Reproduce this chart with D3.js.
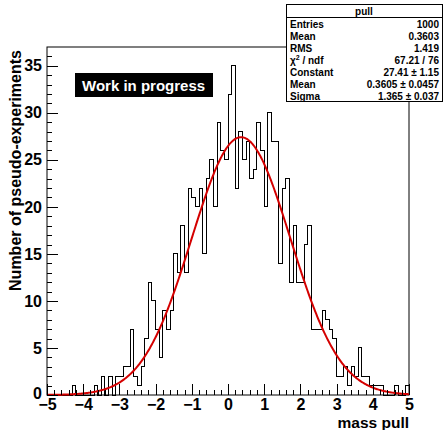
<!DOCTYPE html>
<html>
<head>
<meta charset="utf-8">
<script src="https://cdn.jsdelivr.net/npm/d3@7"></script>
<style>
  html, body { margin: 0; padding: 0; background: #fff; }
  svg { display: block; }
  text { font-family: "Liberation Sans", Arial, Helvetica, sans-serif; font-weight: bold; }
</style>
</head>
<body>
<svg id="chart" width="445" height="430"></svg>
<script>
// Histogram binning: 100 bins of width 0.1 from -5 to 5
const binLow = -5;
const binWidth = 0.1;
// Entries per bin, from the first bin [-5,-4.9) to the last [4.9,5)
const binCounts = [
  0, 0, 0, 0, 0, 0, 0, 1, 0, 0,
  0, 0, 0, 1, 0, 2, 0, 2, 0, 2,
  2, 3, 3, 7, 2, 1, 3, 6, 12, 10,
  7, 4, 9, 7, 9, 15, 13, 18, 13, 22,
  21, 20, 22, 15, 23, 25, 20, 29, 26, 25,
  32, 35, 22, 28, 25, 27, 23, 24, 29, 26,
  20, 30, 27, 27, 14, 22, 23, 12, 18, 12,
  12, 16, 18, 7, 7, 7, 9, 8, 7, 6,
  2, 2, 3, 1, 3, 2, 5, 2, 2, 1,
  1, 1, 1, 0, 0, 0, 1, 0, 0, 1
];

// Gaussian fit parameters
const fitConstant = 27.41;
const fitMean = 0.3605;
const fitSigma = 1.365;

// Axis ticks
const xMajorTicks = [-5, -4, -3, -2, -1, 0, 1, 2, 3, 4, 5];
const yMajorTicks = [0, 5, 10, 15, 20, 25, 30, 35];

// Statistics box rows: label, value
const statsTitle = "pull";
const statsLabels = ["Entries", "Mean", "RMS", "chi2", "Constant", "Mean", "Sigma"];
const statsValues = ["1000", "0.3603", "1.419", "67.21 / 76", "27.41 \u00b1 1.15", "0.3605 \u00b1 0.0457", "1.365 \u00b1 0.037"];

const svg = d3.select("#chart");
const frame = { left: 47, right: 409, top: 47, bottom: 395 };

const x = d3.scaleLinear().domain([-5, 5]).range([frame.left, frame.right]);
const y = d3.scaleLinear().domain([0, 37]).range([frame.bottom, frame.top]);

// Frame
svg.append("rect")
  .attr("x", frame.left).attr("y", frame.top)
  .attr("width", frame.right - frame.left).attr("height", frame.bottom - frame.top)
  .attr("fill", "none").attr("stroke", "#000").attr("stroke-width", 1);

// Histogram outline
const pts = [[binLow, 0]];
binCounts.forEach((c, i) => {
  const lo = binLow + i * binWidth, hi = lo + binWidth;
  pts.push([lo, c], [hi, c]);
});
pts.push([binLow + binCounts.length * binWidth, 0]);
const histLine = d3.line().x(d => x(d[0])).y(d => y(d[1]));
svg.append("path")
  .attr("d", histLine(pts))
  .attr("fill", "none").attr("stroke", "#000").attr("stroke-width", 1)
  .attr("shape-rendering", "crispEdges");

// Fitted Gaussian
const gauss = v => fitConstant * Math.exp(-0.5 * Math.pow((v - fitMean) / fitSigma, 2));
const fitPts = d3.range(-5, 5.0001, 0.02).map(v => [v, gauss(v)]);
svg.append("path")
  .attr("d", d3.line().x(d => x(d[0])).y(d => y(d[1]))(fitPts))
  .attr("fill", "none").attr("stroke", "#d40000").attr("stroke-width", 2);

// Y axis: ticks point into the frame
const yMinor = d3.range(0, 37, 1).filter(v => v % 5 !== 0);
svg.append("g").attr("transform", `translate(${frame.left},0)`)
  .call(d3.axisLeft(y).tickValues(yMinor).tickSizeInner(-5).tickSizeOuter(0).tickFormat(""))
  .call(g => g.select(".domain").remove());
const yAxis = svg.append("g").attr("transform", `translate(${frame.left},0)`)
  .call(d3.axisLeft(y).tickValues(yMajorTicks).tickSizeInner(-11).tickSizeOuter(0).tickPadding(5));
yAxis.select(".domain").remove();
yAxis.selectAll("text").attr("font-size", 16).attr("font-family", null).attr("fill", "#000");
// the zero label sits a little higher so it clears the first x label
yAxis.selectAll(".tick").filter(d => d === 0).select("text").attr("dy", "0.2em");

// X axis: ticks point into the frame
const xMinor = d3.range(-5, 5.0001, 0.2).filter(v => Math.abs(v - Math.round(v)) > 1e-6);
svg.append("g").attr("transform", `translate(0,${frame.bottom})`)
  .call(d3.axisBottom(x).tickValues(xMinor).tickSizeInner(-5).tickSizeOuter(0).tickFormat(""))
  .call(g => g.select(".domain").remove());
const xAxis = svg.append("g").attr("transform", `translate(0,${frame.bottom})`)
  .call(d3.axisBottom(x).tickValues(xMajorTicks).tickSizeInner(-11).tickSizeOuter(0).tickPadding(4).tickFormat(d3.format("d")));
xAxis.select(".domain").remove();
xAxis.selectAll("text").attr("font-size", 16).attr("font-family", null).attr("fill", "#000");
svg.selectAll(".tick line").attr("stroke", "#000").attr("shape-rendering", "crispEdges");

// Axis titles
svg.append("text")
  .attr("transform", `translate(21,${frame.top + 3}) rotate(-90)`)
  .attr("text-anchor", "end").attr("font-size", 16)
  .text("Number of pseudo-experiments");
svg.append("text")
  .attr("x", frame.right).attr("y", 428)
  .attr("text-anchor", "end").attr("font-size", 15.5)
  .text("mass pull");

// Work-in-progress label
svg.append("rect").attr("x", 75).attr("y", 73).attr("width", 138).attr("height", 24).attr("fill", "#000");
svg.append("text").attr("x", 82).attr("y", 91).attr("font-size", 15).attr("fill", "#fff")
  .text("Work in progress");

// Statistics box
const box = { x: 286, y: 4, w: 156, h: 97 };
const sb = svg.append("g");
sb.append("rect").attr("x", box.x).attr("y", box.y).attr("width", box.w).attr("height", box.h)
  .attr("fill", "#fff").attr("stroke", "#000").attr("stroke-width", 1).attr("shape-rendering", "crispEdges");
sb.append("line").attr("x1", box.x).attr("x2", box.x + box.w).attr("y1", 17.5).attr("y2", 17.5)
  .attr("stroke", "#000").attr("shape-rendering", "crispEdges");
sb.append("text").attr("x", box.x + box.w / 2).attr("y", 14.5).attr("text-anchor", "middle")
  .attr("font-size", 10).text(statsTitle);
statsLabels.forEach((lab, i) => {
  const ty = 27.5 + i * 12;
  const t = sb.append("text").attr("x", box.x + 4).attr("y", ty).attr("font-size", 10);
  if (lab === "chi2") {
    t.append("tspan").text("\u03c7");
    t.append("tspan").attr("font-size", 7).attr("dy", -4).text("2");
    t.append("tspan").attr("dy", 4).text(" / ndf");
  } else {
    t.text(lab);
  }
  sb.append("text").attr("x", box.x + box.w - 3).attr("y", ty).attr("text-anchor", "end")
    .attr("font-size", 10).text(statsValues[i]);
});
</script>
</body>
</html>
